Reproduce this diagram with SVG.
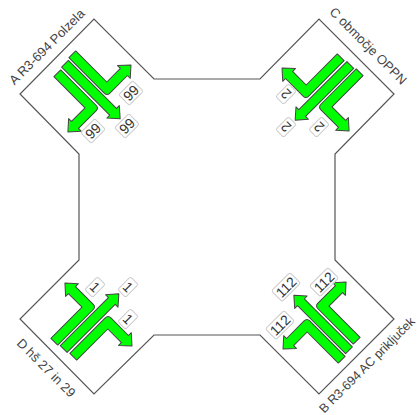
<svg xmlns="http://www.w3.org/2000/svg" width="417" height="415" viewBox="0 0 417 415">
<style>
.o{fill:none;stroke:#555;stroke-width:1.2}
.a{fill:#00ff00;stroke:#444;stroke-width:1;stroke-linejoin:round}
.b{fill:#fff;stroke:#ccc;stroke-width:1}
.l{font-family:"Liberation Sans",Arial,sans-serif;font-size:13px;fill:#444;text-anchor:middle}
.t{font-family:"Liberation Sans",Arial,sans-serif;font-size:14px;fill:#333;text-anchor:middle}
</style>
<defs>
<path id="s" class="a" d="M0-4.8H68V-8.8L78 0 68 8.8V4.8H0Z"/>
<path id="lf" class="a" d="M0-4.8H50Q54-4.8 54-0.8V24H58L49 34 40 24H44V4.8H0Z"/>
<path id="rt" class="a" d="M0 4.8H50Q54 4.8 54 0.8V-24H58L49-34 40-24H44V-4.8H0Z"/>
<g id="set">
<use href="#lf" transform="translate(57.3 73.3) rotate(45)"/>
<use href="#s" transform="translate(65 63.7) rotate(45)"/>
<use href="#rt" transform="translate(72.3 54.3) rotate(45)"/>
</g>
</defs>
<g id="outline"><path class="o" d="M154 79H260L319 19 394 94 335 154V260L394 319 319 394 260 335H154L94 394 20 319 79 260V154L20 94 94 19Z"/></g>
<g id="connectors">
<use href="#set"/>
<use href="#set" transform="rotate(90 207 207)"/>
<use href="#set" transform="rotate(180 207 207)"/>
<use href="#set" transform="rotate(270 207 207)"/>
</g>
<g id="node-a"><text class="l" transform="translate(50 50) rotate(-45)">A R3-694 Polzela</text>
<g transform="translate(131 93) rotate(-45)"><rect class="b" x="-10" y="-7.5" width="20" height="15" rx="2"/><text class="t" y="5">99</text></g>
<g transform="translate(127 126) rotate(-45)"><rect class="b" x="-10" y="-7.5" width="20" height="15" rx="2"/><text class="t" y="5">99</text></g>
<g transform="translate(93 131) rotate(-45)"><rect class="b" x="-10" y="-7.5" width="20" height="15" rx="2"/><text class="t" y="5">99</text></g></g>
<g id="node-c"><text class="l" transform="translate(365 49) rotate(45)">C območje OPPN</text>
<g transform="translate(286 94) rotate(225)"><rect class="b" x="-5.5" y="-9" width="11" height="18" rx="2"/><text class="t" y="5">2</text></g>
<g transform="translate(286 127) rotate(225)"><rect class="b" x="-5.5" y="-9" width="11" height="18" rx="2"/><text class="t" y="5">2</text></g>
<g transform="translate(319 127) rotate(225)"><rect class="b" x="-5.5" y="-9" width="11" height="18" rx="2"/><text class="t" y="5">2</text></g></g>
<g id="node-d"><text class="l" transform="translate(43 371) rotate(45)">D hš 27 in 29</text>
<g transform="translate(95 287) rotate(45)"><rect class="b" x="-5.5" y="-9" width="11" height="18" rx="2"/><text class="t" y="5">1</text></g>
<g transform="translate(128 287) rotate(45)"><rect class="b" x="-5.5" y="-9" width="11" height="18" rx="2"/><text class="t" y="5">1</text></g>
<g transform="translate(128 319) rotate(45)"><rect class="b" x="-5.5" y="-9" width="11" height="18" rx="2"/><text class="t" y="5">1</text></g></g>
<g id="node-b"><text class="l" style="font-size:12.6px" transform="translate(370 368) rotate(-45)">B R3-694 AC priključek</text>
<g transform="translate(286 287) rotate(-45)"><rect class="b" x="-13" y="-7.5" width="26" height="15" rx="2"/><text class="t" y="5">112</text></g>
<g transform="translate(324 282) rotate(-45)"><rect class="b" x="-13" y="-7.5" width="26" height="15" rx="2"/><text class="t" y="5">112</text></g>
<g transform="translate(280 325) rotate(-45)"><rect class="b" x="-13" y="-7.5" width="26" height="15" rx="2"/><text class="t" y="5">112</text></g></g>
</svg>
